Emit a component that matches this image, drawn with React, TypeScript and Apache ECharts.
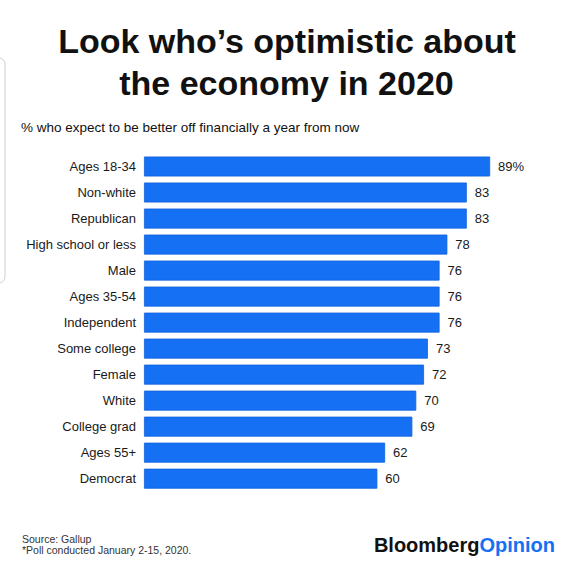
import React, { useEffect, useRef } from "react";
import * as echarts from "echarts";

const categories = [
  "Ages 18-34",
  "Non-white",
  "Republican",
  "High school or less",
  "Male",
  "Ages 35-54",
  "Independent",
  "Some college",
  "Female",
  "White",
  "College grad",
  "Ages 55+",
  "Democrat",
];
const values = [89, 83, 83, 78, 76, 76, 76, 73, 72, 70, 69, 62, 60];

const titleLines = ["Look who\u2019s optimistic about", "the economy in 2020"];
const subtitle = "% who expect to be better off financially a year from now";
const footLines = ["Source: Gallup", "*Poll conducted January 2-15, 2020."];

const FONT = "'Liberation Sans', Arial, Helvetica, sans-serif";
const BLUE = "#1570f3";

export default function App() {
  const ref = useRef<HTMLDivElement>(null);
  useEffect(() => {
    if (!ref.current) return;
    const chart = echarts.init(ref.current, undefined, { renderer: "svg" });
    chart.setOption({
      animation: false,
      backgroundColor: "#ffffff",
      grid: { left: 144, top: 153.5, bottom: 81.3, right: 37.1, containLabel: false },
      xAxis: {
        type: "value",
        min: 0,
        max: 100,
        show: false,
      },
      yAxis: {
        type: "category",
        data: categories,
        inverse: true,
        axisLine: { show: false },
        axisTick: { show: false },
        splitLine: { show: false },
        axisLabel: {
          color: "#1a1a1a",
          fontSize: 13,
          fontFamily: FONT,
          margin: 8,
        },
      },
      series: [
        {
          type: "bar",
          data: values,
          barWidth: 20,
          itemStyle: { color: BLUE, borderColor: "#1262dc", borderWidth: 0.8 },
          label: {
            show: true,
            position: "right",
            distance: 8,
            color: "#1a1a1a",
            fontSize: 13,
            fontFamily: FONT,
            formatter: (p: any) => (p.dataIndex === 0 ? p.value + "%" : String(p.value)),
          },
        },
      ],
      graphic: [
        {
          type: "rect",
          shape: { x: -10, y: 58, width: 15, height: 225, r: 6 },
          style: { fill: "none", stroke: "#cfcfcf", lineWidth: 1 },
          silent: true,
        },
        {
          type: "text",
          x: 287,
          y: 40.5,
          style: {
            text: titleLines[0],
            fill: "#111",
            font: `bold 34px ${FONT}`,
            align: "center",
            verticalAlign: "middle",
          },
        },
        {
          type: "text",
          x: 286.5,
          y: 82.5,
          style: {
            text: titleLines[1],
            fill: "#111",
            font: `bold 34px ${FONT}`,
            align: "center",
            verticalAlign: "middle",
          },
        },
        {
          type: "text",
          x: 21,
          y: 127,
          style: {
            text: subtitle,
            fill: "#111",
            font: `13.5px ${FONT}`,
            align: "left",
            verticalAlign: "middle",
          },
        },
        {
          type: "text",
          x: 22,
          y: 539.2,
          style: {
            text: footLines[0],
            fill: "#333",
            font: `10.5px ${FONT}`,
            lineHeight: 11,
            align: "left",
            verticalAlign: "middle",
          },
        },
        {
          type: "text",
          x: 22,
          y: 550.4,
          style: {
            text: footLines[1],
            fill: "#333",
            font: `10.5px ${FONT}`,
            lineHeight: 11,
            align: "left",
            verticalAlign: "middle",
          },
        },
        {
          type: "text",
          x: 555,
          y: 544.8,
          style: {
            text: "{b|Bloomberg}{o|Opinion}",
            align: "right",
            verticalAlign: "middle",
            font: `bold 20px ${FONT}`,
            rich: {
              b: { fill: "#111", font: `bold 20px ${FONT}` },
              o: { fill: BLUE, font: `bold 20px ${FONT}` },
            },
          },
        },
      ],
    });
    return () => chart.dispose();
  }, []);
  return (
    <div
      ref={ref}
      style={{ position: "absolute", left: 0, top: 0, width: 570, height: 573 }}
    />
  );
}
